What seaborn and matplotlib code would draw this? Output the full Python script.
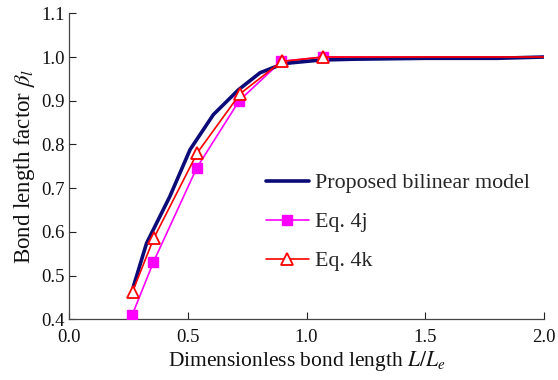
import matplotlib
matplotlib.use("Agg")
import matplotlib.pyplot as plt
from matplotlib.lines import Line2D
import seaborn as sns
import pandas as pd

# Dimensionless bond length L/Le and bond length factor values
model_x = [0.27, 0.326, 0.424, 0.509, 0.607, 0.713, 0.804, 0.903, 1.057, 1.2, 1.5, 1.8, 2.0]
model_y = [0.474, 0.574, 0.681, 0.788, 0.868, 0.925, 0.964, 0.985, 0.993, 0.995, 0.997, 0.997, 1.0]

eq4j_x = [0.265, 0.355, 0.537, 0.716, 0.893, 1.07]
eq4j_y = [0.409, 0.531, 0.746, 0.900, 0.990, 1.000]

eq4k_x = [0.267, 0.356, 0.540, 0.720, 0.895, 1.07]
eq4k_y = [0.463, 0.585, 0.781, 0.916, 0.990, 1.000]

# Both equations level off at 1.0 up to L/Le = 2
tail_x = [2.0]
tail_y = [1.0]

x_ticks = [0.0, 0.5, 1.0, 1.5, 2.0]
y_ticks = [0.4, 0.5, 0.6, 0.7, 0.8, 0.9, 1.0, 1.1]

sns.set_theme(style="ticks")
plt.rcParams["font.family"] = ["Liberation Serif", "DejaVu Serif"]
plt.rcParams["mathtext.fontset"] = "stix"

fig = plt.figure(figsize=(5.58, 3.8), dpi=100)
ax = fig.add_axes([0.124, 0.16, 0.851, 0.805])

model = pd.DataFrame({"x": model_x, "y": model_y})
j_line = pd.DataFrame({"x": eq4j_x + tail_x, "y": eq4j_y + tail_y})
k_line = pd.DataFrame({"x": eq4k_x + tail_x, "y": eq4k_y + tail_y})

navy = "#0a0a78"
magenta = "#ff00ff"
red = "#ff0000"

sns.lineplot(data=model, x="x", y="y", ax=ax, color=navy, lw=2.6, sort=False,
             zorder=3)
sns.lineplot(data=j_line, x="x", y="y", ax=ax, color=magenta, lw=1.2, sort=False,
             zorder=2)
ax.plot(eq4j_x, eq4j_y, ls="none", marker="s", ms=6.5, color=magenta, zorder=4)
sns.lineplot(data=k_line, x="x", y="y", ax=ax, color=red, lw=1.2, sort=False,
             zorder=4)
ax.plot(eq4k_x, eq4k_y, ls="none", marker="^", ms=8, mfc="white", mec=red,
        mew=1.3, zorder=5)

# Legend handles combining line and marker
handles = [
    Line2D([], [], color=navy, lw=2.6),
    Line2D([], [], color=magenta, lw=1.2, marker="s", ms=6.5),
    Line2D([], [], color=red, lw=1.2, marker="^", ms=8, mfc="white", mec=red, mew=1.3),
]
labels = ["Proposed bilinear model", "Eq. 4j", "Eq. 4k"]
ax.legend(handles, labels, loc="center left", bbox_to_anchor=(0.414, 0.317),
          frameon=False, fontsize=15.8, handlelength=1.95, handletextpad=0.3,
          labelspacing=0.85, borderaxespad=0, borderpad=0)

ax.set_xlim(0, 2.0)
ax.set_ylim(0.4, 1.1)
ax.set_xticks(x_ticks)
ax.set_yticks(y_ticks)
ax.set_xticklabels([f"{v:.1f}" for v in x_ticks])
ax.set_yticklabels([f"{v:.1f}" for v in y_ticks])
ax.tick_params(direction="in", length=5, width=0.8, labelsize=13.5, colors="#222222",
               labelcolor="#111111")
ax.tick_params(axis="x", pad=7)
ax.tick_params(axis="y", pad=3)
for side in ("top", "right"):
    ax.spines[side].set_visible(False)
for side in ("left", "bottom"):
    ax.spines[side].set_color("#444444")
    ax.spines[side].set_linewidth(0.9)

ax.set_xlabel(r"Dimensionless bond length $L/L_e$", fontsize=15.5, color="#111111",
              labelpad=2)
ax.set_ylabel(r"Bond length factor $\beta_l$", fontsize=16.5, color="#111111",
              labelpad=3)

fig.savefig("out.png", dpi=100)
